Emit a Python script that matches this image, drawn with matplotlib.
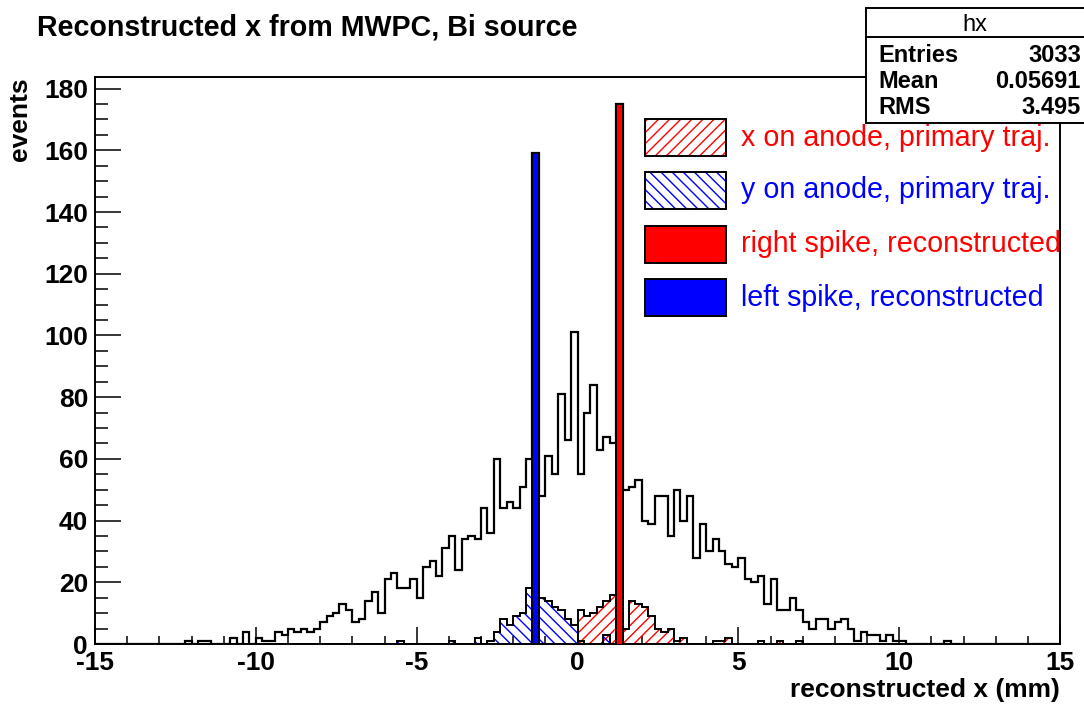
import numpy as np
import matplotlib
matplotlib.use("Agg")
import matplotlib.pyplot as plt
from matplotlib.patches import Rectangle

plt.rcParams['font.family'] = ['Liberation Sans', 'DejaVu Sans']
plt.rcParams['hatch.linewidth'] = 1.0
plt.rcParams['axes.unicode_minus'] = False

# hx binning: 150 bins of 0.2 mm between -15 and 15
x_lo, x_hi, n_bins = -15.0, 15.0, 150
edges = np.linspace(x_lo, x_hi, n_bins + 1)
bin_w = (x_hi - x_lo) / n_bins

# reconstructed x from the MWPC, counts per bin from -12.2 mm upwards
hx_start = -12.2
hx_counts = [
    1, 0, 1, 1, 0, 0, 0, 2, 0, 4,
    0, 2, 1, 1, 4, 3, 5, 4, 5, 4,
    5, 7, 9, 10, 13, 11, 7, 8, 14, 17,
    10, 21, 23, 18, 18, 21, 15, 25, 27, 22,
    31, 35, 24, 34, 35, 34, 44, 36, 60, 44,
    46, 44, 51, 60, 159, 48, 61, 55, 81, 66,
    101, 55, 75, 84, 63, 67, 65, 175, 50, 51,
    53, 40, 39, 48, 48, 35, 50, 40, 48, 28,
    39, 30, 34, 30, 26, 25, 28, 21, 20, 22,
    13, 21, 11, 11, 15, 11, 7, 5, 8, 8,
    5, 7, 8, 5, 1, 4, 3, 3, 1, 3,
    1, 1, 0, 0, 0, 0, 0, 0, 1,
]

# y on anode, primary trajectory (from -5.6 mm)
y_anode_start = -5.6
y_anode_counts = [
    1, 0, 0, 0, 0, 0, 0, 0, 1, 0,
    0, 0, 2, 0, 1, 4, 8, 6, 9, 10,
    18, 16, 15, 14, 12, 11, 8, 6, 1, 0,
    0, 0, 3,
]

# x on anode, primary trajectory (from 0.0 mm)
x_anode_start = 0.0
x_anode_counts = [
    11, 9, 10, 12, 14, 16, 15, 5, 14, 13,
    12, 9, 5, 4, 5, 1, 2, 0, 0, 0,
    0, 1, 1, 2, 0, 0, 0, 0, 1, 0,
    0, 1, 0, 0, 1,
]

# the two single-bin spikes
left_spike_x, left_spike_n = -1.4, 159
right_spike_x, right_spike_n = 1.2, 175

# stats box
stats_name = "hx"
stats_rows = [("Entries", "3033"), ("Mean", "0.05691"), ("RMS", "3.495")]

red_hatch = "///"
blue_hatch = "\\\\\\"
legend_entries = [
    ("x on anode, primary traj.", "red", red_hatch),
    ("y on anode, primary traj.", "blue", blue_hatch),
    ("right spike, reconstructed", "red", None),
    ("left spike, reconstructed", "blue", None),
]


def full_bins(start, counts):
    arr = np.zeros(n_bins)
    i0 = int(round((start - x_lo) / bin_w))
    arr[i0:i0 + len(counts)] = counts
    return arr


hx = full_bins(hx_start, hx_counts)
y_anode = full_bins(y_anode_start, y_anode_counts)
x_anode = full_bins(x_anode_start, x_anode_counts)
left_spike = full_bins(left_spike_x, [left_spike_n])
right_spike = full_bins(right_spike_x, [right_spike_n])

fig = plt.figure(figsize=(10.84, 7.04), dpi=100)
ax = fig.add_axes([95 / 1084, 1 - 644 / 704, 965 / 1084, 567 / 704])

# main histogram
ax.stairs(hx, edges, color='black', linewidth=1.6, zorder=2)

# hatched anode histograms, hatch in colour, outline in black
for h, col, hatch in [(x_anode, 'red', red_hatch), (y_anode, 'blue', blue_hatch)]:
    ax.stairs(h, edges, fill=True, facecolor='none', edgecolor=col,
              hatch=hatch, linewidth=0, zorder=3)
    ax.stairs(h, edges, color='black', linewidth=1.4, zorder=4)

# spikes
for h, col in [(left_spike, 'blue'), (right_spike, 'red')]:
    ax.stairs(h, edges, fill=True, facecolor=col, edgecolor='black',
              linewidth=1.4, zorder=5)

ax.set_xlim(x_lo, x_hi)
ax.set_ylim(0, 1.05 * max(hx))
ax.set_xticks(np.arange(-15, 16, 5))
ax.set_xticks(np.arange(-15, 16, 1), minor=True)
ax.set_yticks(np.arange(0, 181, 20))
ax.set_yticks(np.arange(0, 181, 5), minor=True)
ax.tick_params(direction='in', which='both', top=False, right=False, width=1.1)
ax.tick_params(axis='x', which='major', length=12, pad=5)
ax.tick_params(axis='x', which='minor', length=6)
ax.tick_params(axis='y', which='major', length=19, pad=5)
ax.tick_params(axis='y', which='minor', length=9.5)
for lab in ax.get_xticklabels() + ax.get_yticklabels():
    lab.set_fontsize(19)
    lab.set_fontweight('bold')
for sp in ax.spines.values():
    sp.set_linewidth(1.4)

fig.text(307 / 1084, 1 - 28 / 704, "Reconstructed x from MWPC, Bi source",
         ha='center', va='center', fontsize=20.6, fontweight='bold')
fig.text(20 / 1084, 1 - 77 / 704, "events", rotation=90, ha='center', va='top',
         fontsize=19, fontweight='bold')
fig.text(1060 / 1084, 1 - 690 / 704, "reconstructed x (mm)", ha='right',
         va='center', fontsize=19, fontweight='bold')

# legend drawn by hand, no frame
box_tops = [119, 172, 226, 279]
for (label, col, hatch), top in zip(legend_entries, box_tops):
    y0 = 1 - (top + 37) / 704
    if hatch:
        fig.add_artist(Rectangle((645 / 1084, y0), 81 / 1084, 37 / 704,
                                 transform=fig.transFigure, facecolor='white',
                                 edgecolor=col, hatch=hatch, linewidth=0))
        fig.add_artist(Rectangle((645 / 1084, y0), 81 / 1084, 37 / 704,
                                 transform=fig.transFigure, facecolor='none',
                                 edgecolor='black', linewidth=1.4))
    else:
        fig.add_artist(Rectangle((645 / 1084, y0), 81 / 1084, 37 / 704,
                                 transform=fig.transFigure, facecolor=col,
                                 edgecolor='black', linewidth=1.4))
    fig.text(741 / 1084, 1 - (top + 18.5) / 704, label, color=col,
             ha='left', va='center', fontsize=20.6)

# stats box
fig.add_artist(Rectangle((866 / 1084, 1 - 123 / 704), 240 / 1084, 115 / 704,
                         transform=fig.transFigure, facecolor='white',
                         edgecolor='black', linewidth=1.4, zorder=10))
fig.add_artist(plt.Line2D([866 / 1084, 1.0], [1 - 37 / 704, 1 - 37 / 704],
                          transform=fig.transFigure, color='black',
                          linewidth=1.4, zorder=11))
fig.text(975 / 1084, 1 - 25 / 704, stats_name, ha='center', va='center',
         fontsize=17, zorder=12)
for k, (name, val) in enumerate(stats_rows):
    yy = 1 - (55 + 26 * k) / 704
    fig.text(878 / 1084, yy, name, ha='left', va='center', fontsize=17,
             fontweight='bold', zorder=12)
    fig.text(1081 / 1084, yy, val, ha='right', va='center', fontsize=17,
             fontweight='bold', zorder=12)

fig.savefig("out.png", dpi=100)
